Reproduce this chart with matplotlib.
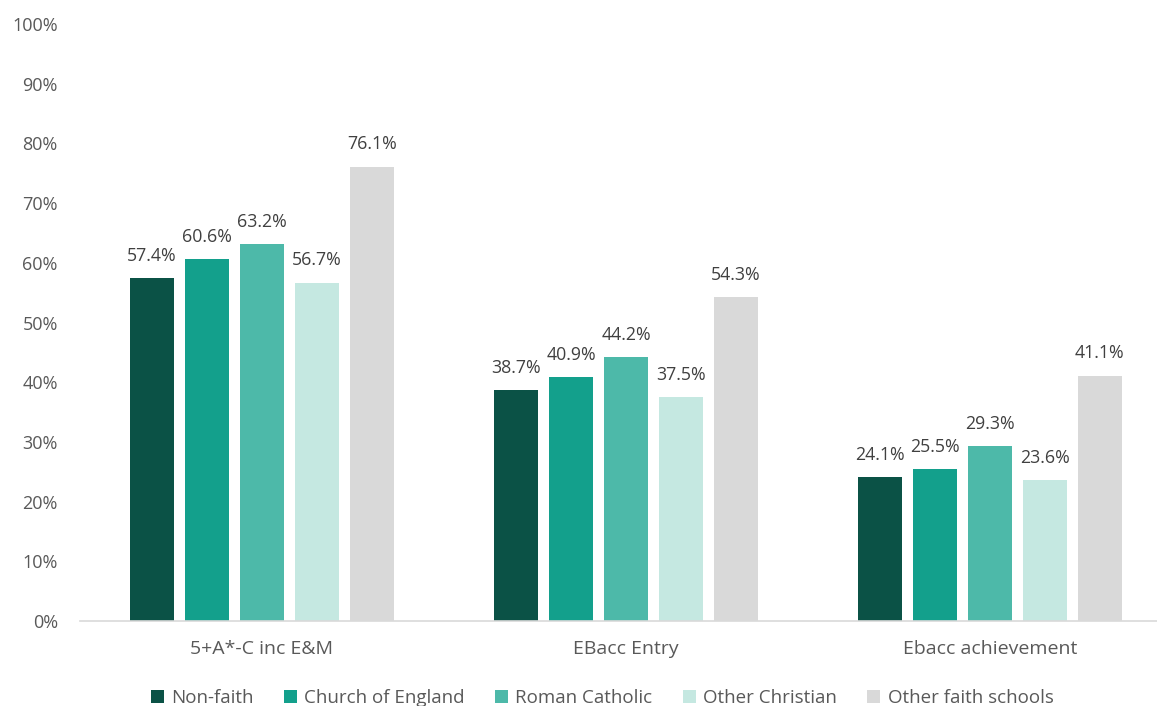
import matplotlib
matplotlib.use("Agg")
import matplotlib.pyplot as plt
import numpy as np

categories = ["5+A*-C inc E&M", "EBacc Entry", "Ebacc achievement"]
series_names = ["Non-faith", "Church of England", "Roman Catholic", "Other Christian", "Other faith schools"]
non_faith = [57.4, 38.7, 24.1]
church_of_england = [60.6, 40.9, 25.5]
roman_catholic = [63.2, 44.2, 29.3]
other_christian = [56.7, 37.5, 23.6]
other_faith = [76.1, 54.3, 41.1]
values = [non_faith, church_of_england, roman_catholic, other_christian, other_faith]
colors = ["#0b5246", "#13a08c", "#4db9a9", "#c5e8e1", "#d9d9d9"]
yticks = [0, 10, 20, 30, 40, 50, 60, 70, 80, 90, 100]

plt.rcParams['font.family'] = ['Open Sans', 'DejaVu Sans']
text_color = "#595959"

fig = plt.figure(figsize=(11.57, 7.06), dpi=100)
ax = fig.add_axes([80/1157, 1 - 621/706, 1092/1157, 597/706])

x = np.arange(len(categories))
pitch = 0.151
width = 0.121
for i, (name, vals, c) in enumerate(zip(series_names, values, colors)):
    pos = x + (i - 2) * pitch
    bars = ax.bar(pos, vals, width=width, color=c, label=name, zorder=2)
    for b, v in zip(bars, vals):
        ax.annotate(f"{v:.1f}%", (b.get_x() + b.get_width() / 2, v),
                    xytext=(0, 9.5), textcoords="offset points",
                    ha="center", va="bottom", fontsize=12.8, color="#404040")

ax.set_xlim(-0.5, 2.5)
ax.set_ylim(0, 100)
ax.set_yticks(yticks)
ax.set_yticklabels([f"{t}%" for t in yticks])
ax.set_xticks(x)
ax.set_xticklabels(categories)
ax.tick_params(axis="both", length=0, labelcolor=text_color)
ax.tick_params(axis="y", pad=16, labelsize=13)
ax.tick_params(axis="x", pad=14, labelsize=14)
for s in ["top", "right", "left"]:
    ax.spines[s].set_visible(False)
ax.spines["bottom"].set_color("#d9d9d9")
ax.spines["bottom"].set_linewidth(1.2)

leg = fig.legend(loc="center", bbox_to_anchor=(602/1157, 1 - 698/706), ncol=5,
                 frameon=False, fontsize=13.5, handlelength=0.7, handleheight=0.7,
                 handletextpad=0.4, columnspacing=1.6, labelcolor=text_color)

fig.savefig("out.png", dpi=100)
